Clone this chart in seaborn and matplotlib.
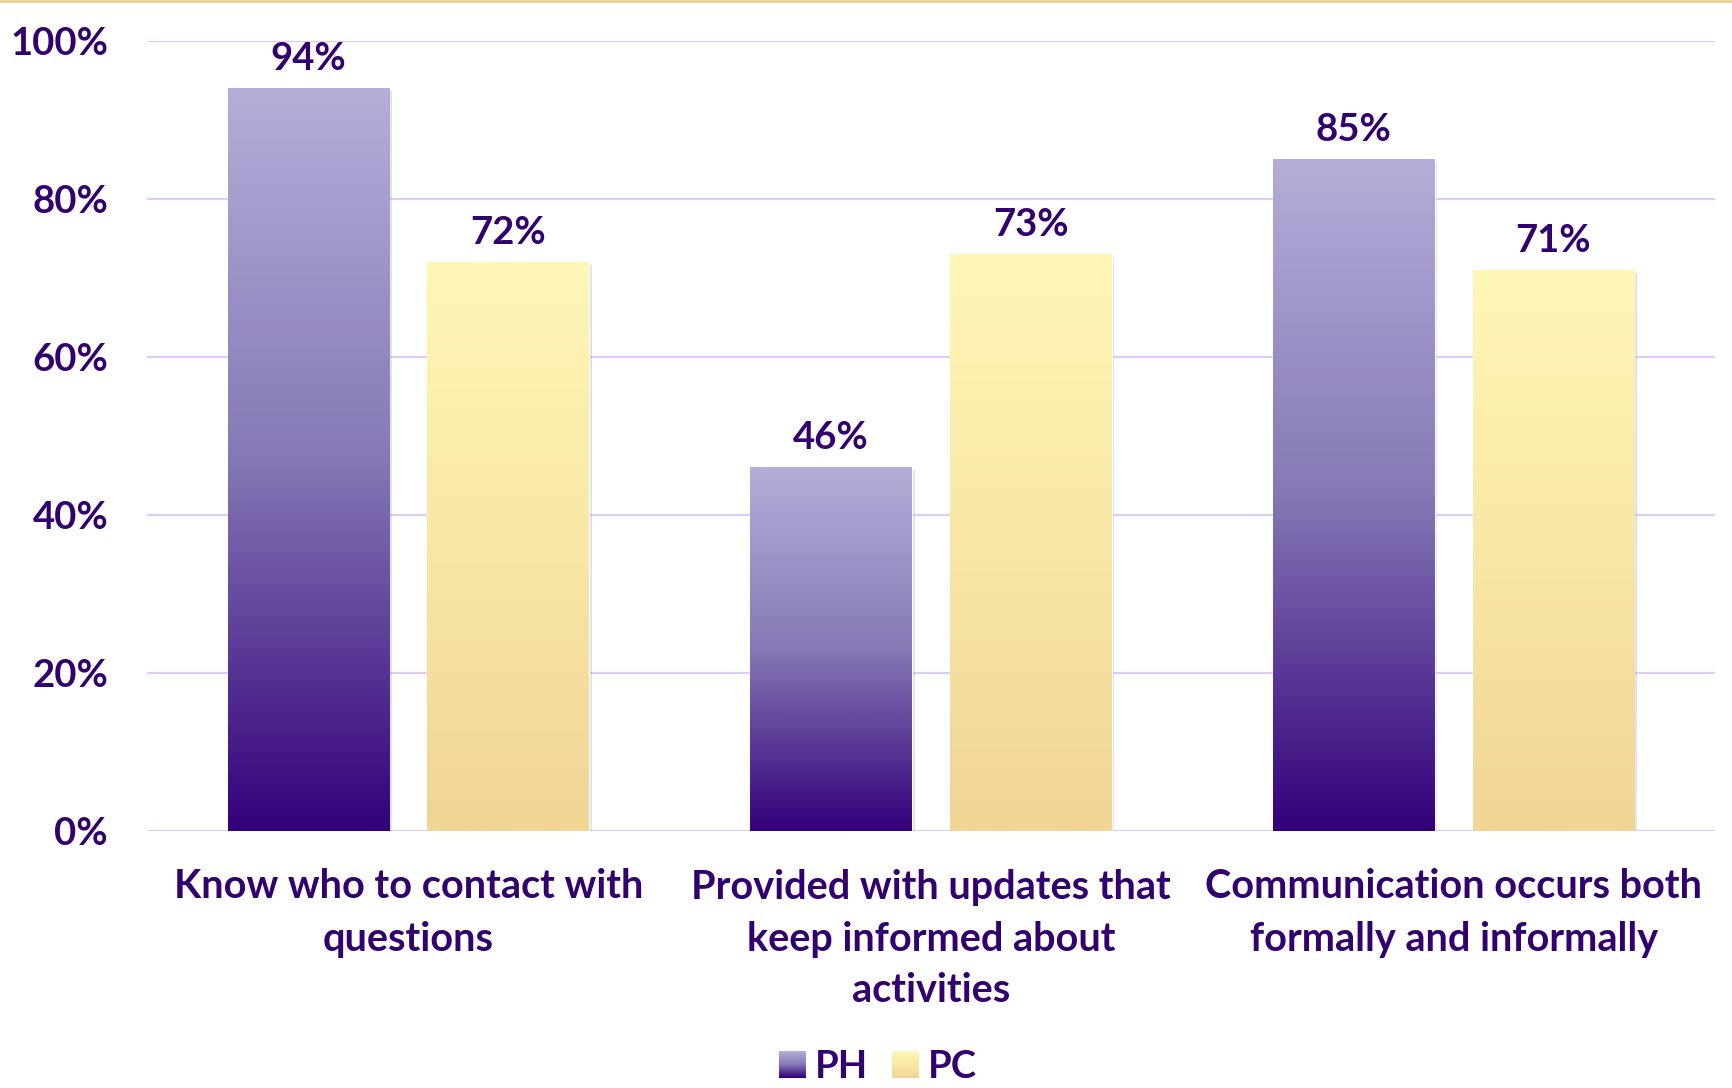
import numpy as np
import pandas as pd
import matplotlib
matplotlib.use("Agg")
import matplotlib.pyplot as plt
import matplotlib.patheffects as pe
from matplotlib.colors import to_rgb
from matplotlib.lines import Line2D
import seaborn as sns

# Survey items and the share answering yes, per group
items = [
    "Know who to contact with\nquestions",
    "Provided with updates that\nkeep informed about\nactivities",
    "Communication occurs both\nformally and informally",
]
groups = ["PH", "PC"]
ph_values = [94, 46, 85]
pc_values = [72, 73, 71]
y_ticks = [0, 20, 40, 60, 80, 100]

TEXT = "#33006F"
GRID = "#DDCBF8"
# gradient stops per group, from bar base to bar top
grad_stops = {
    "PH": ["#33007A", "#8578B5", "#B6ADD8"],
    "PC": ["#F0D595", "#F8E7A6", "#FFF7B6"],
}

df = pd.DataFrame({
    "item": items * 2,
    "group": ["PH"] * len(items) + ["PC"] * len(items),
    "pct": ph_values + pc_values,
})

sns.set_theme(style="white")
plt.rcParams["font.family"] = ["Lato", "DejaVu Sans"]
plt.rcParams["font.weight"] = "bold"
FS = 27.5

fig = plt.figure(figsize=(17.33, 10.88), dpi=100)
ax = fig.add_axes([147 / 1733, 1 - 831 / 1088, (1715 - 147) / 1733, (831 - 41) / 1088])

palette = {g: grad_stops[g][0] for g in groups}
sns.barplot(data=df, x="item", y="pct", hue="group", hue_order=groups,
            palette=palette, width=0.764, gap=0.19, ax=ax, legend=False,
            saturation=1, zorder=3)


def gradient(stops, n=256):
    cols = np.array([to_rgb(c) for c in stops])
    pos = np.linspace(0, 1, len(stops))
    f = np.linspace(0, 1, n)
    rgb = np.stack([np.interp(f, pos, cols[:, k]) for k in range(3)], axis=-1)
    return rgb[:, None, :]


# repaint every bar with a vertical gradient from its base to its top
for container, g in zip(ax.containers, groups):
    vals = ph_values if g == "PH" else pc_values
    for patch, v in zip(container.patches, vals):
        x0, w = patch.get_x(), patch.get_width()
        patch.set_path_effects([
            pe.SimplePatchShadow(offset=(2, -2), shadow_rgbFace="#888888", alpha=0.25),
            pe.Normal(),
        ])
        ax.imshow(gradient(grad_stops[g]), extent=[x0, x0 + w, 0, v],
                  origin="lower", aspect="auto", zorder=3.5, interpolation="bilinear")
        ax.annotate(f"{v}%", xy=(x0 + w / 2, v), xytext=(0, 9),
                    textcoords="offset points", ha="center", va="bottom",
                    fontsize=FS, fontweight="bold", color=TEXT)

ax.set_xlim(-0.5, 2.5)
ax.set_ylim(0, 100)
ax.set_yticks(y_ticks)
ax.set_yticklabels([f"{t}%" for t in y_ticks])
ax.yaxis.grid(True, color=GRID, linewidth=1.6, zorder=0)
ax.set_axisbelow(True)
for s in ax.spines.values():
    s.set_visible(False)
ax.tick_params(axis="y", length=0, pad=28, labelsize=FS, labelcolor=TEXT)
ax.tick_params(axis="x", length=0, pad=27, labelsize=28.5, labelcolor=TEXT)
for lab in ax.get_xticklabels() + ax.get_yticklabels():
    lab.set_fontweight("bold")
for lab in ax.get_xticklabels():
    lab.set_linespacing(1.5)
ax.set_xlabel("")
ax.set_ylabel("")

# thin rule along the top edge of the figure
fig.add_artist(Line2D([0, 1], [0.9995, 0.9995], transform=fig.transFigure,
                      color="#E6D08F", linewidth=2))

# legend with gradient swatches
handles = [plt.Rectangle((0, 0), 1, 1, facecolor=grad_stops[g][0]) for g in groups]
leg = fig.legend(handles, groups, loc="center", bbox_to_anchor=(878 / 1733, 1 - 1067 / 1088),
                 ncol=2, frameon=False, handlelength=0.7, handleheight=0.7,
                 handletextpad=0.25, columnspacing=0.6, labelcolor=TEXT,
                 prop={"weight": "bold", "size": FS})
fig.canvas.draw()
renderer = fig.canvas.get_renderer()
for p, g in zip(leg.get_patches(), groups):
    bb = p.get_window_extent(renderer)
    size = int(round(min(bb.width, bb.height)))
    img = gradient(grad_stops[g], n=size)
    img = np.repeat(img, size, axis=1)
    p.set_visible(False)
    fig.figimage(img, xo=int(round(bb.x0)), yo=int(round(bb.y0 + (bb.height - size) / 2)),
                 origin="lower", zorder=5)

fig.savefig("out.png", dpi=100, facecolor="white")
